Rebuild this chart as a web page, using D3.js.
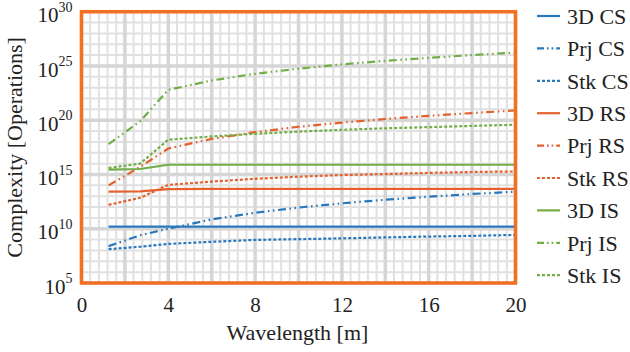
<!DOCTYPE html>
<html><head><meta charset="utf-8">
<script src="https://cdn.jsdelivr.net/npm/d3@7"></script>
<style>
html,body{margin:0;padding:0;background:#fff;}
svg{display:block;}
svg text{font-family:"Liberation Serif","Times New Roman",serif !important;}
</style></head>
<body>
<svg id="chart" width="630" height="352"></svg>
<script>
// Wavelength [m]
const wavelengths = [1.25, 2.7, 4, 6, 8, 10, 12, 14, 16, 18, 20];
// Complexity [Operations]
const cs3D  = [1.6e10,1.6e10,1.6e10,1.6e10,1.6e10,1.6e10,1.6e10,1.6e10,1.6e10,1.6e10,1.6e10];
const csPrj = [2.5e8, 2.5e9, 1.0e10, 7.2e10, 3.0e11, 8.9e11, 2.2e12, 4.7e12, 8.9e12, 1.6e13, 2.6e13];
const csStk = [1.3e8, 2.2e8, 4.0e8, 6.3e8, 9.3e8, 1.1e9, 1.3e9, 1.6e9, 1.9e9, 2.2e9, 2.7e9];
const rs3D  = [2.6e13, 2.8e13, 4.5e13, 4.7e13, 4.7e13, 4.7e13, 4.7e13, 4.7e13, 4.7e13, 4.7e13, 4.7e13];
const rsPrj = [1.0e14, 5.0e15, 2.5e17, 1.9e18, 7.9e18, 2.5e19, 6.0e19, 1.3e20, 2.5e20, 4.6e20, 7.9e20];
const rsStk = [1.6e12, 7.1e12, 1.1e14, 2.2e14, 4.0e14, 6.3e14, 8.9e14, 1.1e15, 1.4e15, 1.7e15, 1.9e15];
const is3D  = [2.8e15, 3.2e15, 7.9e15, 7.9e15, 7.9e15, 7.9e15, 7.9e15, 7.9e15, 7.9e15, 7.9e15, 7.9e15];
const isPrj = [6.3e17, 7.9e19, 6.3e22, 4.6e23, 1.9e24, 5.6e24, 1.4e25, 3.0e25, 5.6e25, 1.0e26, 1.7e26];
const isStk = [4.0e15, 1.0e16, 1.6e18, 3.2e18, 5.6e18, 8.9e18, 1.3e19, 1.8e19, 2.3e19, 3.0e19, 3.8e19];

const seriesNames = ["3D CS","Prj CS","Stk CS","3D RS","Prj RS","Stk RS","3D IS","Prj IS","Stk IS"];
const seriesValues = [cs3D, csPrj, csStk, rs3D, rsPrj, rsStk, is3D, isPrj, isStk];
const xTicks = [0, 4, 8, 12, 16, 20];
const yTickExps = [5, 10, 15, 20, 25, 30];
const xLabel = "Wavelength [m]";
const yLabel = "Complexity [Operations]";

const colors = {CS:"#2878bd", RS:"#e5602d", IS:"#72ad47"};
const dash = {"3D":null, "Prj":"8,3.5,1.6,3.5,1.6,3.5", "Stk":"3,2"};
const FONT = "'Liberation Serif', 'Times New Roman', serif";

const svg = d3.select("#chart");
const L = 81.5, R = 515.5, T = 11.7, B = 283;
const x = d3.scaleLinear().domain([0,20]).range([L,R]);
const y = d3.scaleLog().domain([1e5,1e30]).range([B,T]);

const grid = svg.append("g");
d3.range(0, 20.001, 0.4).forEach(v => {
  const major = Math.abs(v/2 - Math.round(v/2)) < 1e-6;
  if (major) return;
  grid.append("line").attr("x1",x(v)).attr("x2",x(v)).attr("y1",T).attr("y2",B)
    .attr("stroke","#e1e1e1").attr("stroke-width",2);
});
d3.range(5,31).forEach(e => {
  if (e % 5 === 0) return;
  grid.append("line").attr("x1",L).attr("x2",R).attr("y1",y(Math.pow(10,e))).attr("y2",y(Math.pow(10,e)))
    .attr("stroke","#e1e1e1").attr("stroke-width",2);
});
d3.range(0, 21, 2).forEach(v => {
  grid.append("line").attr("x1",x(v)).attr("x2",x(v)).attr("y1",T).attr("y2",B)
    .attr("stroke","#d6d6d6").attr("stroke-width",3.5);
});
yTickExps.forEach(e => {
  grid.append("line").attr("x1",L).attr("x2",R).attr("y1",y(Math.pow(10,e))).attr("y2",y(Math.pow(10,e)))
    .attr("stroke","#d6d6d6").attr("stroke-width",3.5);
});

const line = d3.line().x((d,i)=>x(wavelengths[i])).y(d=>y(d));
seriesNames.forEach((name,k) => {
  const [kind, grp] = name.split(" ");
  const p = svg.append("path").datum(seriesValues[k]).attr("d", line)
    .attr("fill","none").attr("stroke", colors[grp]).attr("stroke-width", 2.2);
  if (dash[kind]) p.attr("stroke-dasharray", dash[kind]);
});

svg.append("rect").attr("x",L).attr("y",T).attr("width",R-L).attr("height",B-T)
  .attr("fill","none").attr("stroke","#f36f22").attr("stroke-width",3.5);

const xAxis = svg.append("g").attr("transform",`translate(0,${B})`)
  .call(d3.axisBottom(x).tickValues(xTicks).tickSize(0).tickPadding(14));
xAxis.attr("font-family", FONT);
xAxis.select(".domain").remove();
xAxis.selectAll("text").attr("font-size",21).attr("fill","#222").style("font-family", FONT);

const yAxis = svg.append("g").attr("transform",`translate(${L},0)`)
  .call(d3.axisLeft(y).tickValues(yTickExps.map(e=>Math.pow(10,e))).tickSize(0).tickPadding(9).tickFormat(()=>""));
yAxis.attr("font-family", FONT);
yAxis.select(".domain").remove();
yAxis.selectAll(".tick text").each(function(d){
  const t = d3.select(this);
  const e = Math.round(Math.log10(d));
  t.attr("font-size",21).attr("fill","#222").style("font-family", FONT).attr("dy","0.48em");
  t.append("tspan").text("10");
  t.append("tspan").attr("font-size",14).attr("dy","-0.75em").text(e);
});

svg.append("text").attr("x",(L+R)/2 - 1).attr("y",340).attr("text-anchor","middle")
  .attr("font-size",22).attr("fill","#222").style("font-family", FONT).text(xLabel);
svg.append("text").attr("transform",`translate(22,${(T+B)/2}) rotate(-90)`).attr("text-anchor","middle")
  .attr("font-size",22).attr("fill","#222").style("font-family", FONT).text(yLabel);

const lg = svg.append("g");
seriesNames.forEach((name,k) => {
  const [kind, grp] = name.split(" ");
  const yy = 16 + k*32.4;
  const l = lg.append("line").attr("x1",537).attr("x2",560).attr("y1",yy).attr("y2",yy)
    .attr("stroke",colors[grp]).attr("stroke-width",2.2);
  if (dash[kind]) l.attr("stroke-dasharray", kind==="Prj" ? "7,3,1.6,3,1.6,3" : "3,2");
  lg.append("text").attr("x",567).attr("y",yy).attr("dy","0.35em")
    .attr("font-size",22).attr("fill","#222").style("font-family", FONT).text(name);
});
</script>
</body></html>
